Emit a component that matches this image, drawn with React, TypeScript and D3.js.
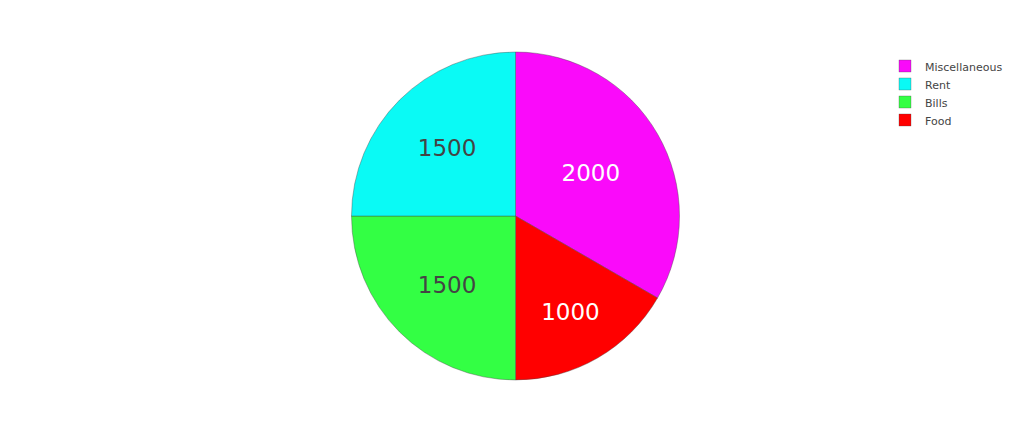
import { useEffect, useRef } from "react"
import * as d3 from "d3"

const labels = ["Miscellaneous", "Food", "Bills", "Rent"]
const values = [2000, 1000, 1500, 1500]
const colors = ["#fa0afa", "#ff0000", "#33ff44", "#0afaf5"]
const textColors = ["#ffffff", "#ffffff", "#444444", "#444444"]
const legendOrder = ["Miscellaneous", "Rent", "Bills", "Food"]

const W = 1036
const H = 437

export default function App() {
  const svgRef = useRef<SVGSVGElement>(null)

  useEffect(() => {
    if (!svgRef.current) return
    const svg = d3.select(svgRef.current)
    svg.selectAll("*").remove()

    const cx = 515.5
    const cy = 216
    const R = 164

    const data = labels.map((l, i) => ({ label: l, value: values[i], color: colors[i], text: textColors[i] }))

    const pie = d3
      .pie<(typeof data)[number]>()
      .value((d) => d.value)
      .sort(null)
      .startAngle(0)
      .endAngle(2 * Math.PI)

    const arcs = pie(data)
    const arc = d3.arc<d3.PieArcDatum<(typeof data)[number]>>().innerRadius(0).outerRadius(R)

    const g = svg.append("g").attr("transform", `translate(${cx},${cy})`)

    g.selectAll("path.slice")
      .data(arcs)
      .enter()
      .append("path")
      .attr("class", "slice")
      .attr("d", arc)
      .attr("fill", (d) => d.data.color)
      .attr("stroke", "#444")
      .attr("stroke-width", 0.4)

    // 라벨: 슬라이스가 좁을수록 바깥쪽으로
    g.selectAll("text.val")
      .data(arcs)
      .enter()
      .append("text")
      .attr("class", "val")
      .attr("transform", (d) => {
        const a = ((d.endAngle - d.startAngle) * 180) / Math.PI
        const t = Math.max(0, (120 - a) / 60)
        const k = 0.53 + 0.14 * Math.pow(t, 1.22)
        const mid = (d.startAngle + d.endAngle) / 2
        return `translate(${Math.sin(mid) * R * k},${-Math.cos(mid) * R * k + 0.5})`
      })
      .attr("text-anchor", "middle")
      .attr("dominant-baseline", "central")
      .style("font-family", "'DejaVu Sans', Verdana, sans-serif")
      .style("font-size", "23px")
      .style("fill", (d) => d.data.text)
      .text((d) => d.data.value)

    // 범례
    const legend = svg.append("g").attr("transform", "translate(899,0)")
    const y = d3.scalePoint().domain(legendOrder).range([66, 120])
    legendOrder.forEach((name) => {
      const i = labels.indexOf(name)
      const row = legend.append("g").attr("transform", `translate(0,${y(name)})`)
      row
        .append("rect")
        .attr("x", 0)
        .attr("y", -6)
        .attr("width", 12)
        .attr("height", 12)
        .attr("fill", colors[i])
        .attr("stroke", "#444")
        .attr("stroke-width", 0.3)
      row
        .append("text")
        .attr("x", 26)
        .attr("y", 1)
        .attr("dominant-baseline", "central")
        .style("font-family", "'DejaVu Sans', Verdana, sans-serif")
        .style("font-size", "11px")
        .style("fill", "#444")
        .text(name)
    })
  }, [])

  return (
    <svg
      ref={svgRef}
      width={W}
      height={H}
      style={{ position: "absolute", left: 0, top: 0, background: "#fff" }}
    />
  )
}
